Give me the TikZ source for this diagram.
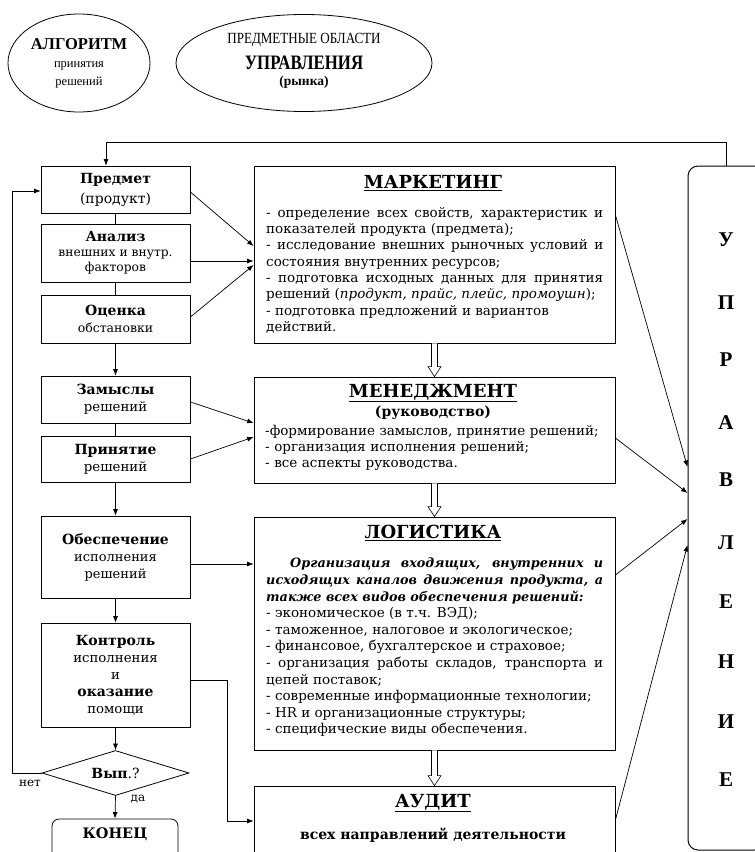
\documentclass[tikz,border=0pt]{standalone}
\usepackage{fontspec}
\usepackage{graphicx}
\setmainfont{DejaVu Serif}
\newfontfamily\tnr{Liberation Serif}
\usetikzlibrary{shapes.geometric,arrows.meta,calc}
\tikzset{
  bx/.style={draw, line width=0.8pt, inner sep=0pt},
  lbx/.style={bx, minimum width=149pt, align=center, font=\fontsize{13.3}{17}\selectfont},
  mbx/.style={bx, minimum width=361pt},
  arr/.style={line width=0.7pt, -{Latex[length=6.5pt,width=5pt]}},
  ln/.style={line width=0.7pt},
  ttl/.style={font=\bfseries\fontsize{18}{20}\selectfont},
  lst/.style={inner sep=0pt, anchor=north west, text width=337pt, align=justify},
  upl/.style={font=\tnr\bfseries\fontsize{21}{21}\selectfont},
}
\newcommand\hollowarr[2]{%
  \draw[line width=0.6pt, fill=white] ($(#1.south)+(-3,0)$) -- ($(#2.north)+(-3,-10)$) -- ($(#2.north)+(-6.5,-10)$) -- (#2.north) -- ($(#2.north)+(6.5,-10)$) -- ($(#2.north)+(3,-10)$) -- ($(#1.south)+(3,0)$);}
\begin{document}
\begin{tikzpicture}[x=1pt,y=-1pt]
\useasboundingbox (0,0) rectangle (755,852);
\fill[white] (0,0) rectangle (755,852);
\clip (0,0) rectangle (755,852);

% ellipses
\node[bx, ellipse, minimum width=142pt, minimum height=98pt, align=center, font=\tnr\fontsize{12.5}{18}\selectfont] (alg) at (79,63) {{\fontsize{16.5}{18}\selectfont\bfseries АЛГОРИТМ}\\принятия\\решений};
\node[bx, ellipse, minimum width=256pt, minimum height=97pt] (obl) at (304,63) {};
\node[font=\tnr\fontsize{15.5}{16}\selectfont] (obl1) at (304,40) {\scalebox{0.84}[1]{ПРЕДМЕТНЫЕ ОБЛАСТИ}};
\node[font=\tnr\bfseries\fontsize{20.5}{22}\selectfont] (obl2) at (304,63) {\scalebox{0.82}[1]{УПРАВЛЕНИЯ}};
\node[font=\tnr\bfseries\fontsize{13.5}{16}\selectfont] (obl3) at (304,82) {(рынка)};

% left column
\node[lbx, minimum height=47pt, font=\fontsize{14}{20}\selectfont] (predmet) at (115.5,189.5) {\textbf{Предмет}\\(продукт)};
\node[lbx, minimum height=58pt, font=\fontsize{12.3}{15}\selectfont] (analiz) at (115.5,253) {{\fontsize{14}{15}\selectfont\bfseries Анализ}\\внешних и внутр.\\факторов};
\node[lbx, minimum height=48pt, font=\fontsize{12.5}{17}\selectfont] (ocenka) at (115.5,319) {{\fontsize{14}{16}\selectfont\bfseries Оценка}\\обстановки};
\node[lbx, minimum height=47pt] (zamysly) at (115.5,399.5) {{\fontsize{14}{17}\selectfont\bfseries Замыслы}\\решений};
\node[lbx, minimum height=46pt] (prin) at (115.5,459) {{\fontsize{14}{17}\selectfont\bfseries Принятие}\\решений};
\node[lbx, minimum height=82pt, font=\fontsize{13}{17}\selectfont] (obesp) at (115.5,557) {{\fontsize{14}{17}\selectfont\bfseries Обеспечение}\\исполнения\\решений};
\node[lbx, minimum height=104pt] (kontrol) at (115.5,675) {{\fontsize{14}{17}\selectfont\bfseries Контроль}\\исполнения\\и\\{\fontsize{14}{17}\selectfont\bfseries оказание}\\помощи};
\node[bx, diamond, minimum width=147pt, minimum height=45pt, aspect=3.2, font=\fontsize{14}{16}\selectfont] (dec) at (115.5,773) {\textbf{Вып}.?};
\node[bx, rounded corners=7pt, minimum width=126pt, minimum height=60pt] (konec) at (115,849) {};
\node[font=\bfseries\fontsize{14.5}{16}\selectfont] (konect) at (115,834) {КОНЕЦ};
\node[font=\fontsize{12}{14}\selectfont] (net) at (30,783) {нет};
\node[font=\fontsize{12}{14}\selectfont] (da) at (138,799) {да};

\draw[ln] (predmet.south) -- (analiz.north);
\draw[ln] (analiz.south) -- (ocenka.north);
\draw[arr] (ocenka.south) -- (zamysly.north);
\draw[ln] (zamysly.south) -- (prin.north);
\draw[arr] (prin.south) -- (obesp.north);
\draw[arr] (obesp.south) -- (kontrol.north);
\draw[arr] (kontrol.south) -- (dec.north);
\draw[arr] (dec.south) -- (konec.north);
\draw[arr] (dec.west) -- ++(-29,0) |- ([yshift=-1.5pt]predmet.west);

% middle boxes
\node[mbx, minimum height=177pt] (mark) at (434.5,254.5) {};
\node[mbx, minimum height=106pt] (men) at (434.5,430) {};
\node[mbx, minimum height=233pt] (log) at (434.5,633.5) {};
\node[mbx, minimum height=100pt] (aud) at (434.5,836) {};

\node[ttl] (markt) at (433,183) {\underline{МАРКЕТИНГ}};
\node[lst, font=\fontsize{13.5}{16.3}\selectfont] (markl) at (266,207) {- определение всех свойств, характеристик и\linebreak
показателей продукта (предмета);\\
- исследование внешних рыночных условий и\linebreak
состояния внутренних ресурсов;\\
- подготовка исходных данных для принятия\linebreak
решений (\textit{продукт, прайс, плейс, промоушн});\\
- подготовка предложений и вариантов\\
действий.};

\node[ttl] (ment) at (433,393) {\underline{МЕНЕДЖМЕНТ}};
\node[font=\bfseries\fontsize{14}{16}\selectfont] (menr) at (433,413) {(руководство)};
\node[lst, text width=360pt, align=left, font=\fontsize{13.5}{16}\selectfont] (menl) at (265,425) {-формирование замыслов, принятие решений;\\
- организация исполнения решений;\\
- все аспекты руководства.};

\node[ttl] (logt) at (433,533) {\underline{ЛОГИСТИКА}};
\node[lst, font=\fontsize{13.5}{16.6}\selectfont] (logl) at (266,558) {{\fontsize{12.8}{16.6}\selectfont\bfseries\itshape\hspace*{24pt}Организация входящих, внутренних и\linebreak
исходящих каналов движения продукта, а\linebreak
также всех видов обеспечения решений:}\\
- экономическое (в т.ч. ВЭД);\\
- таможенное, налоговое и экологическое;\\
- финансовое, бухгалтерское и страховое;\\
- организация работы складов, транспорта и\linebreak
цепей поставок;\\
- современные информационные технологии;\\
- HR и организационные структуры;\\
- специфические виды обеспечения.};

\node[ttl] (audt) at (433,803) {\underline{АУДИТ}};
\node[font=\bfseries\fontsize{14}{16}\selectfont] (audl) at (433,835) {всех направлений деятельности};

\hollowarr{mark}{men}
\hollowarr{men}{log}
\hollowarr{log}{aud}

% upravlenie box
\node[bx, line width=1pt, rounded corners=10pt, minimum width=76pt, minimum height=684pt] (upr) at (726,508) {};
\foreach \l/\yy [count=\i] in {У/240,П/303,Р/360,А/423,В/480,Л/543,Е/602,Н/662,И/722,Е/780}
  \node[upl] (u\i) at (726,\yy) {\l};

% arrows left -> middle
\draw[arr] ([yshift=-2.5pt]predmet.east) -- ([yshift=8.5pt]mark.west);
\draw[arr] ([yshift=-8pt]analiz.east) -- ([yshift=-8pt]analiz.east -| mark.west);
\draw[arr] ([yshift=2pt]ocenka.east) -- ([yshift=-10.5pt]mark.west);
\draw[arr] ([yshift=-2.5pt]zamysly.east) -- ([yshift=7pt]men.west);
\draw[arr] (prin.east) -- ([yshift=-7pt]men.west);
\draw[arr] ([yshift=-7pt]obesp.east) -- ([yshift=-7pt]obesp.east -| log.west);
\draw[arr] ([yshift=-5pt]kontrol.east) -- ++(37,0) |- ([yshift=15pt]aud.west);

% arrows middle -> upravlenie
\draw[arr] ([yshift=39.5pt]mark.east) -- ([yshift=41pt]upr.west);
\draw[arr] ([yshift=-8pt]men.east) -- ([yshift=15pt]upr.west);
\draw[arr] ([yshift=58.5pt]log.east) -- ([yshift=-11pt]upr.west);
\draw[arr] ([yshift=16pt]aud.east) -- ([yshift=-37pt]upr.west);

% feedback from upravlenie to predmet
\draw[arr] (upr.north) -- ++(0,-23) -| ([xshift=-9.5pt]predmet.north);
\end{tikzpicture}
\end{document}
